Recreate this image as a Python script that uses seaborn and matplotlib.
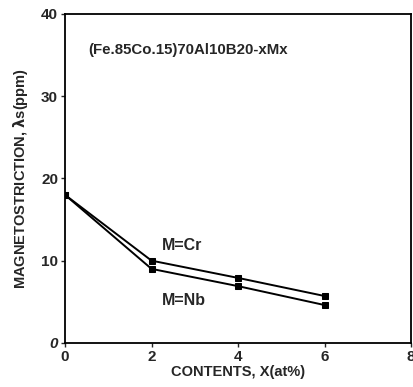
import matplotlib
matplotlib.use("Agg")
import matplotlib.pyplot as plt
import seaborn as sns
import pandas as pd

x_contents = [0, 2, 4, 6]
cr_values = [18.0, 10.0, 7.9, 5.7]
nb_values = [18.0, 9.0, 6.9, 4.6]
x_ticks = [0, 2, 4, 6, 8]
y_ticks = [0, 10, 20, 30, 40]

df = pd.DataFrame({
    "x": x_contents * 2,
    "y": cr_values + nb_values,
    "M": ["Cr"] * 4 + ["Nb"] * 4,
})

sns.set_style("ticks")
plt.rcParams['font.family'] = ['Liberation Sans', 'DejaVu Sans']
plt.rcParams['mathtext.fontset'] = 'dejavusans'

fig = plt.figure(figsize=(4.14, 3.87), dpi=100)
ax = fig.add_axes([0.157, 0.114, 0.836, 0.850])

sns.lineplot(data=df, x="x", y="y", hue="M", palette=["black", "black"],
             marker="s", markersize=4.5, linewidth=1.4, markeredgecolor="black",
             legend=False, ax=ax)

ax.set_xlim(0, 8)
ax.set_ylim(0, 40)
ax.set_xticks(x_ticks)
ax.set_yticks(y_ticks)
ax.set_xticklabels([str(v) for v in x_ticks], fontsize=11, fontweight="bold")
ylabels = ax.set_yticklabels([str(v) for v in y_ticks], fontsize=11, fontweight="bold")
ylabels[0].set_style("italic")
ax.tick_params(direction="out", length=3, width=1, pad=2)
for s in ax.spines.values():
    s.set_linewidth(1.3)
    s.set_color("black")

ax.set_xlabel("CONTENTS, X(at%)", fontsize=10.5, fontweight="bold", labelpad=1)
ax.set_ylabel(r"MAGNETOSTRICTION, $\mathbf{\lambda}$s(ppm)", fontsize=10.5,
              fontweight="bold", labelpad=8)

ax.text(0.53, 35.6, "(Fe.85Co.15)70Al10B20-xMx", fontsize=10.8, fontweight="bold",
        va="center", ha="left")
ax.text(2.25, 11.9, "M=Cr", fontsize=11.5, fontweight="bold", va="center", ha="left")
ax.text(2.25, 5.2, "M=Nb", fontsize=11.5, fontweight="bold", va="center", ha="left")

fig.savefig("out.png", dpi=100)
